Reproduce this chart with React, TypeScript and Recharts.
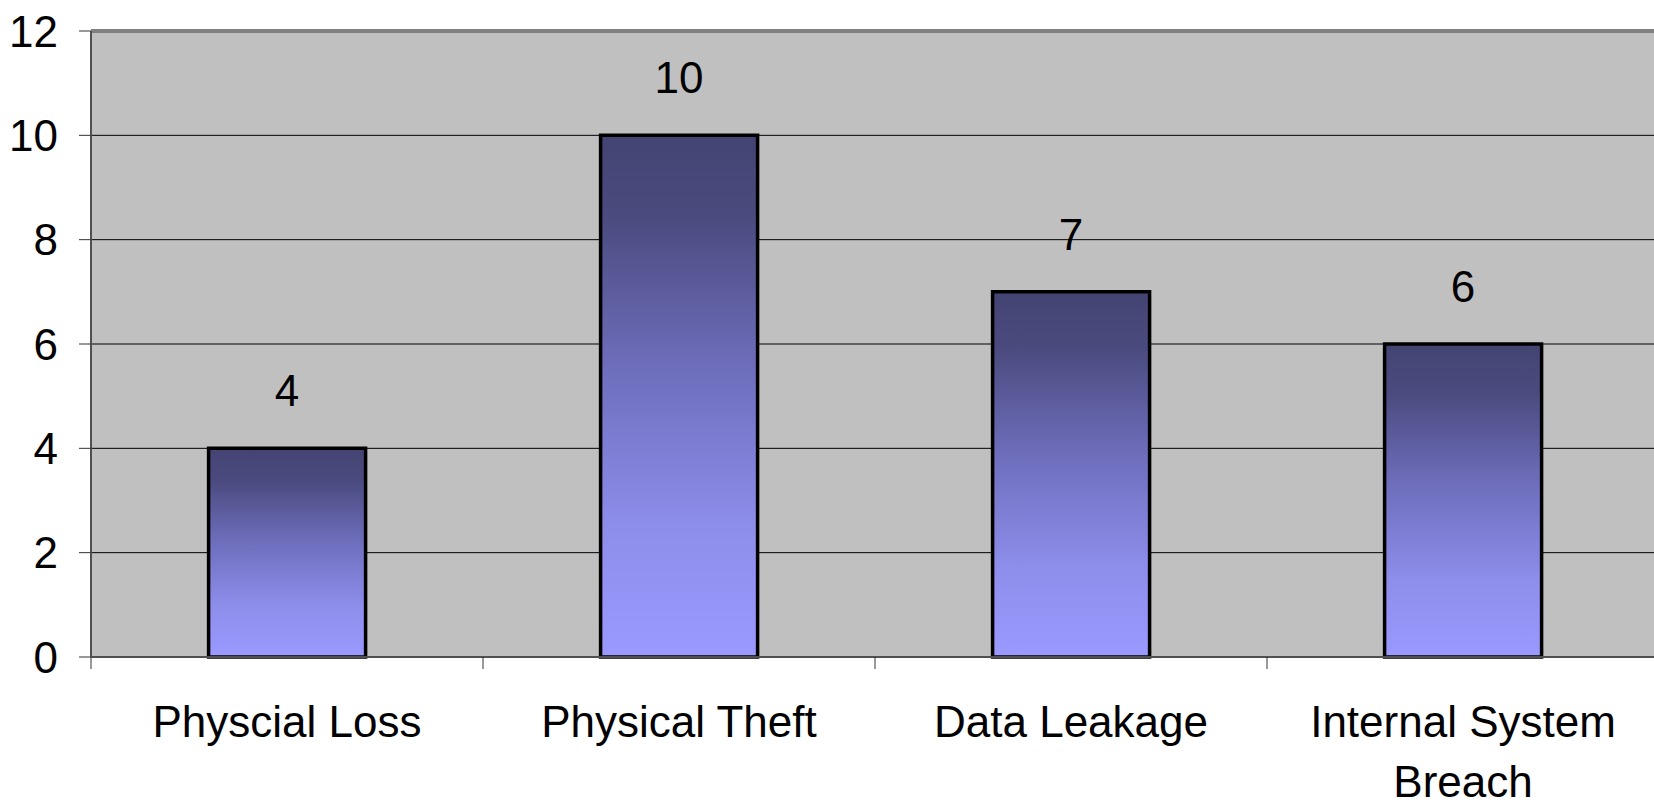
import { BarChart, Bar, XAxis, YAxis, CartesianGrid, LabelList, ReferenceLine } from 'recharts';

const categories = ['Physcial Loss', 'Physical Theft', 'Data Leakage', 'Internal System Breach'];
const incidents = [4, 10, 7, 6];
const yTicks = [0, 2, 4, 6, 8, 10, 12];

const data = categories.map((name, i) => ({ name, value: incidents[i] }));

const FONT = '"Liberation Sans", Arial, Helvetica, sans-serif';
const MAX_LINE_CHARS = 15;

// break a category name into lines of at most MAX_LINE_CHARS characters
function wrapLabel(text: string): string[] {
  const lines: string[] = [];
  let current = '';
  text.split(' ').forEach((word) => {
    const next = current ? `${current} ${word}` : word;
    if (next.length > MAX_LINE_CHARS && current) {
      lines.push(current);
      current = word;
    } else {
      current = next;
    }
  });
  if (current) lines.push(current);
  return lines;
}

// category label plus a tick mark on the left edge of each band
function CategoryTick(props: any) {
  const { x, y, payload } = props;
  const edge = x - (payload.offset ?? 0);
  const lines = wrapLabel(String(payload.value));
  return (
    <g>
      <line x1={edge} x2={edge} y1={y - 12} y2={y} stroke="#333" strokeWidth={1} />
      <text x={x} y={y + 68} textAnchor="middle" fontSize={44} fontFamily={FONT} fill="#000">
        {lines.map((line, i) => (
          <tspan key={line} x={x} dy={i === 0 ? 0 : 60}>
            {line}
          </tspan>
        ))}
      </text>
    </g>
  );
}

export default function App() {
  // the plot runs a little past the right edge of the frame
  return (
    <div
      style={{
        position: 'absolute',
        left: 0,
        top: 0,
        width: 1654,
        height: 807,
        overflow: 'hidden',
        background: '#fff',
      }}
    >
      <BarChart
        width={1659}
        height={807}
        data={data}
        margin={{ top: 31, right: 0, bottom: 0, left: 0 }}
        barCategoryGap="30%"
      >
        <defs>
          <linearGradient id="barFill" x1="0" y1="0" x2="0" y2="1">
            <stop offset="0%" stopColor="#444473" />
            <stop offset="15%" stopColor="#4a4a7e" />
            <stop offset="45%" stopColor="#6e6ebd" />
            <stop offset="75%" stopColor="#8d8deb" />
            <stop offset="100%" stopColor="#9a9aff" />
          </linearGradient>
        </defs>
        <CartesianGrid
          vertical={false}
          stroke="#000"
          strokeWidth={1}
          fill="#c0c0c0"
          fillOpacity={1}
        />
        <ReferenceLine y={12} stroke="#808080" strokeWidth={4} />
        <XAxis
          dataKey="name"
          height={150}
          tickSize={12}
          tickMargin={0}
          tickLine={false}
          axisLine={{ stroke: '#505050', strokeWidth: 2 }}
          tick={<CategoryTick />}
          interval={0}
        />
        <YAxis
          width={91}
          domain={[0, 12]}
          ticks={yTicks}
          interval={0}
          tickSize={12}
          tickMargin={21}
          tickLine={{ stroke: '#333' }}
          axisLine={{ stroke: '#505050', strokeWidth: 2 }}
          tick={{ fontSize: 44, fontFamily: FONT, fill: '#000' }}
        />
        <Bar
          dataKey="value"
          fill="url(#barFill)"
          stroke="#000"
          strokeWidth={3.5}
          isAnimationActive={false}
        >
          <LabelList
            dataKey="value"
            position="top"
            offset={42}
            fill="#000"
            fontSize={44}
            fontFamily={FONT}
          />
        </Bar>
      </BarChart>
    </div>
  );
}
